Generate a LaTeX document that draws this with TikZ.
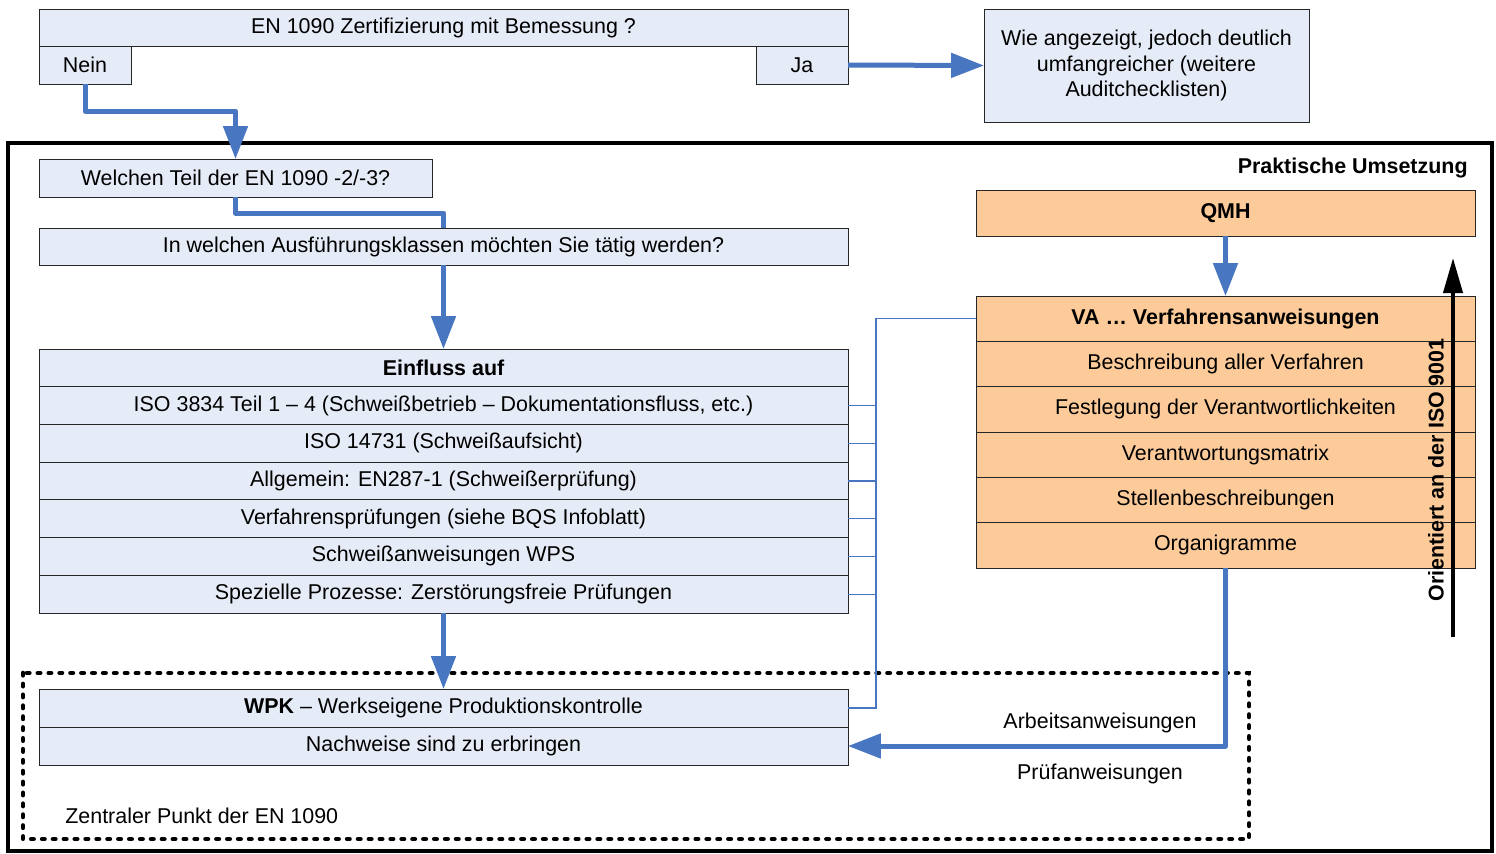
\documentclass[tikz,border=0pt]{standalone}
\usepackage{fontspec}
\setmainfont{Liberation Sans}
\usetikzlibrary{arrows.meta,positioning}
\definecolor{boxblue}{RGB}{230,236,247}
\definecolor{boxorange}{RGB}{252,203,153}
\definecolor{flowblue}{RGB}{72,118,192}
\AtBeginDocument{\fontsize{12.2}{14.4}\selectfont}

\begin{document}
\begin{tikzpicture}[x=0.02cm,y=-0.02cm,>={Triangle[length=0.66cm,width=0.48cm]}]
  \tikzstyle{box}=[rectangle,draw=black!85,fill=boxblue,inner sep=0pt,outer sep=0pt]
  \tikzstyle{wide row}=[box,minimum width=16.18cm,minimum height=0.754cm]
  \tikzstyle{small box}=[box,minimum width=1.84cm,minimum height=0.76cm]
  \tikzstyle{qm row}=[box,fill=boxorange,minimum width=9.98cm,minimum height=0.907cm]
  \tikzstyle{flow}=[flowblue,line width=0.1cm,line join=round]
  \tikzstyle{branch}=[flowblue,line width=0.6pt]
  \tikzstyle{zone}=[black,line width=2.7pt,line cap=round,dash pattern=on 1.3pt off 4.9pt]

  \useasboundingbox (0,0) rectangle (1496,853);
  \draw[line width=2.4pt] (8,143) rectangle (1492,851);
  \draw[zone] (23,673) rectangle (1249,839);

  \node [box,minimum width=16.18cm,minimum height=0.74cm] (cert) at (443.5,27.5) {EN 1090 Zertifizierung mit Bemessung ?};
  \node [small box] (nein) at (85,65) {Nein};
  \node [small box] (ja) at (802,65) {Ja};
  \node [box,minimum width=6.5cm,minimum height=2.26cm,align=center] (wie) at (1146.5,65.5)
    {Wie angezeigt, jedoch deutlich\\umfangreicher (weitere\\Auditchecklisten)};

  \node [box,minimum width=7.86cm,minimum height=0.76cm] (teil) at (235.5,178) {Welchen Teil der EN 1090 -2/-3?};
  \node [wide row,minimum height=0.74cm] (klasse) at (443.5,246.5) {In welchen Ausführungsklassen möchten Sie tätig werden?};

  \node [wide row,font=\bfseries] (ein0) at (443.5,367.9) {Einfluss auf};
  \node [wide row] (ein1) [below=0pt of ein0] {ISO 3834 Teil 1 – 4 (Schweißbetrieb – Dokumentationsfluss, etc.)};
  \node [wide row] (ein2) [below=0pt of ein1] {ISO 14731 (Schweißaufsicht)};
  \node [wide row] (ein3) [below=0pt of ein2] {Allgemein: EN287-1 (Schweißerprüfung)};
  \node [wide row] (ein4) [below=0pt of ein3] {Verfahrensprüfungen (siehe BQS Infoblatt)};
  \node [wide row] (ein5) [below=0pt of ein4] {Schweißanweisungen WPS};
  \node [wide row] (ein6) [below=0pt of ein5] {Spezielle Prozesse: Zerstörungsfreie Prüfungen};

  \node [wide row,minimum height=0.76cm] (wpk0) at (443.5,708) {\textbf{WPK} – Werkseigene Produktionskontrolle};
  \node [wide row,minimum height=0.76cm] (wpk1) [below=0pt of wpk0] {Nachweise sind zu erbringen};

  \node [anchor=east,inner sep=0pt,font=\bfseries] (praxis) at (1468,168) {Praktische Umsetzung};
  \node [qm row,minimum height=0.92cm,font=\bfseries] (qmh) at (1225.5,213) {QMH};
  \node [qm row,font=\bfseries] (va0) at (1225.5,318.7) {VA … Verfahrensanweisungen};
  \node [qm row] (va1) [below=0pt of va0] {Beschreibung aller Verfahren};
  \node [qm row] (va2) [below=0pt of va1] {Festlegung der Verantwortlichkeiten};
  \node [qm row] (va3) [below=0pt of va2] {Verantwortungsmatrix};
  \node [qm row] (va4) [below=0pt of va3] {Stellenbeschreibungen};
  \node [qm row] (va5) [below=0pt of va4] {Organigramme};

  \node [anchor=west,inner sep=0pt] (zentral) at (65,816) {Zentraler Punkt der EN 1090};
  \node (arbeit) at (1100,723) {Arbeitsanweisungen};
  \node (pruef) at (1100,774) {Prüfanweisungen};

  \draw[flow,->] (ja.east) -- (wie.west);
  \draw[flow,->] (nein.south) -- ++(0,27) -| (teil.north);
  \draw[flow] (teil.south) -- ++(0,16) -| (klasse.north);
  \draw[flow,->] (klasse.south) -- (ein0.north);
  \draw[flow,->] (ein6.south) -- (wpk0.north);
  \draw[flow,->] (qmh.south) -- (va0.north);
  \draw[flow,->] (va5.south) |- (wpk1.east);

  \coordinate (brk) at (876,0);
  \foreach \i in {1,...,6}
    \draw[branch] (ein\i.east) -- (ein\i.east -| brk);
  \draw[branch] (va0.west) -| (wpk0.east -| brk) -- (wpk0.east);

  \coordinate (isofoot) at (1453,637);
  \coordinate (isotip) at (1453,258);
  \draw[line width=0.08cm,-{Triangle[length=0.7cm,width=0.38cm]}] (isofoot) -- (isotip);
  \node [rotate=90,font=\bfseries] (iso) at (1436,470) {Orientiert an der ISO 9001};
\end{tikzpicture}
\end{document}
